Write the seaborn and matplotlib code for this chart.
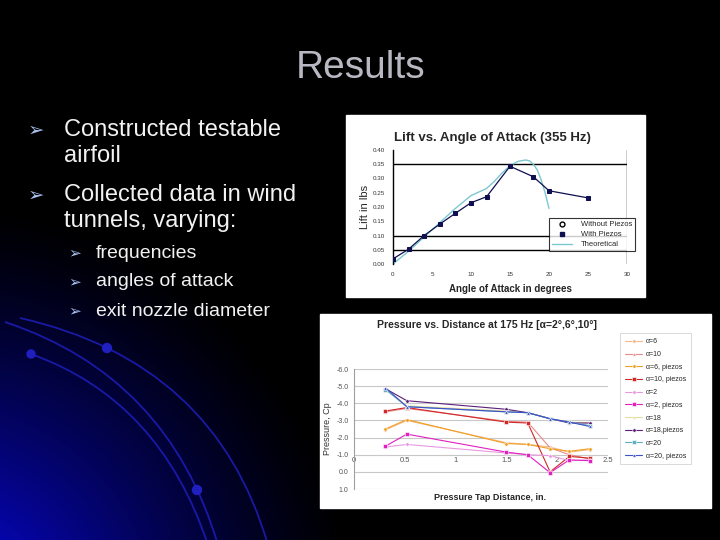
import numpy as np
import pandas as pd
import matplotlib
matplotlib.use("Agg")
import matplotlib.pyplot as plt
import seaborn as sns
from matplotlib.patches import Rectangle, PathPatch, Circle
from matplotlib.path import Path
from matplotlib.lines import Line2D

# ---- data ----
slide_title = "Results"
bullets = [["Constructed testable", "airfoil"], ["Collected data in wind", "tunnels, varying:"]]
sub_bullets = ["frequencies", "angles of attack", "exit nozzle diameter"]

# lift chart
lift_angle = [0, 2, 4, 6, 8, 10, 12, 15, 18, 20, 25]
lift_piezo = [0.018, 0.052, 0.100, 0.140, 0.178, 0.215, 0.236, 0.343, 0.306, 0.257, 0.232]
theory_angle = [0, 2, 4, 6, 8, 10, 12, 13, 14, 15, 16, 17, 17.5, 18, 18.5, 19, 19.5, 20]
theory_lift = [0.000, 0.045, 0.095, 0.145, 0.195, 0.240, 0.265, 0.290, 0.320, 0.345, 0.360,
               0.365, 0.362, 0.350, 0.330, 0.295, 0.250, 0.195]
lift_grid = [0.05, 0.10, 0.35]
lift_yticks = [0.00, 0.05, 0.10, 0.15, 0.20, 0.25, 0.30, 0.35, 0.40]
lift_xticks = [0, 5, 10, 15, 20, 25, 30]

# pressure chart
tap_dist = [0.31, 0.52, 1.50, 1.71, 1.93, 2.12, 2.32]
press_labels = ["α=6", "α=10", "α=6, piezos", "α=10, piezos", "α=2", "α=2, piezos",
                "α=18", "α=18,piezos", "α=20", "α=20, piezos"]
cp_a6 = [-2.45, -3.00, -1.70, -1.60, -1.45, -1.15, -1.30]
cp_a10 = [-3.50, -3.70, -2.95, -2.90, -1.40, -1.00, -0.75]
cp_a6p = [-2.50, -3.05, -1.65, -1.60, -1.35, -1.20, -1.35]
cp_a10p = [-3.55, -3.75, -2.90, -2.85, 0.00, -0.90, -0.80]
cp_a2 = [-1.45, -1.60, -1.10, -1.00, -0.95, -0.65, -0.70]
cp_a2p = [-1.50, -2.20, -1.15, -1.00, 0.05, -0.70, -0.65]
cp_a18 = [-4.80, -3.85, -3.55, -3.45, -3.10, -2.90, -2.85]
cp_a18p = [-4.85, -4.15, -3.65, -3.45, -3.10, -2.85, -2.85]
cp_a20 = [-4.80, -3.80, -3.50, -3.45, -3.10, -2.90, -2.70]
cp_a20p = [-4.90, -3.80, -3.50, -3.45, -3.10, -2.90, -2.65]
press_series = [cp_a6, cp_a10, cp_a6p, cp_a10p, cp_a2, cp_a2p, cp_a18, cp_a18p, cp_a20, cp_a20p]
press_colors = ["#f5b88a", "#e88a8a", "#f0a020", "#d02828", "#e898e0", "#e020c0",
                "#e6dc9c", "#5a2078", "#60b0c0", "#4050c8"]
press_markers = ["o", "^", "o", "s", "o", "s", "^", "o", "s", "^"]
press_yticks = [-6, -5, -4, -3, -2, -1, 0, 1]
press_xticks = [0, 0.5, 1, 1.5, 2, 2.5]

W, H = 720, 540
sns.set_style("white")
plt.rcParams["font.family"] = ["Liberation Sans", "DejaVu Sans"]

fig = plt.figure(figsize=(7.2, 5.4), dpi=100)


def fx(px):
    return px / W


def fy(py):
    return 1 - py / H


# ---- slide background ----
bg = fig.add_axes([0, 0, 1, 1])
yy, xx = np.mgrid[0:H, 0:W]
d = np.sqrt((xx + 60) ** 2 + (yy - 620) ** 2)
glow = np.clip(1 - d / 420, 0, 1) ** 1.3
img = np.zeros((H, W, 3))
img[..., 0] = 0.03 * glow
img[..., 1] = 0.03 * glow
img[..., 2] = 0.95 * glow
bg.imshow(img, extent=[0, W, H, 0], aspect="auto", zorder=0)
bg.set_xlim(0, W)
bg.set_ylim(H, 0)
bg.axis("off")

arcs = [((20, 318), (215, 362), (268, 545)),
        ((5, 322), (168, 376), (218, 545)),
        ((31, 354), (160, 400), (208, 545))]
for p0, c, p1 in arcs:
    path = Path([p0, c, p1], [Path.MOVETO, Path.CURVE3, Path.CURVE3])
    bg.add_patch(PathPatch(path, fill=False, edgecolor="#1c1cb4", lw=1.3, alpha=0.9, zorder=1))
for cx, cy, r in [(107, 348, 4.5), (31, 354, 4), (197, 490, 4.5)]:
    bg.add_patch(Circle((cx, cy), r, color="#2020c0", zorder=2))

# white panels behind the two pasted charts
bg.add_patch(Rectangle((346, 115), 299, 182, color="white", zorder=3))
bg.add_patch(Rectangle((320, 314), 391, 194, color="white", zorder=3))

# ---- slide text ----
main_y = [130, 195]
for y, lines in zip(main_y, bullets):
    bg.text(36, y, "➢", family=["DejaVu Sans"], color="#a8c0f0", fontsize=14, ha="center",
            va="center", zorder=4)
    for i, line in enumerate(lines):
        bg.text(64, y + 26.5 * i, line, color="#f2f2f2", fontsize=17, ha="left", va="center",
                zorder=4)
sub_y = [253, 282, 311]
for y, s in zip(sub_y, sub_bullets):
    bg.text(75, y, "➢", family=["DejaVu Sans"], color="#a8c0f0", fontsize=11, ha="center",
            va="center", zorder=4)
    bg.text(96, y, s, color="#f2f2f2", fontsize=14, ha="left", va="center", zorder=4)
bg.text(361, 68, slide_title, color="#b8b8c2", fontsize=28, ha="center", va="center", zorder=4)

# ---- lift chart ----
ax1 = fig.add_axes([fx(393), fy(264), fx(627 - 393), (264 - 150) / H])
ax1.set_facecolor("none")
for g in lift_grid:
    ax1.axhline(g, color="black", lw=1.0, zorder=1)
ax1.axvline(30, color="black", lw=1.0, zorder=1)
sns.lineplot(x=theory_angle, y=theory_lift, ax=ax1, color="#7cc8d0", lw=1.0, zorder=2)
sns.lineplot(x=lift_angle, y=lift_piezo, ax=ax1, color="#101050", lw=0.9, marker="s",
             markersize=3.5, markeredgecolor="#101050", zorder=3)
ax1.set_xlim(0, 30)
ax1.set_ylim(0, 0.40)
ax1.set_xticks(lift_xticks)
ax1.set_yticks(lift_yticks)
ax1.set_yticklabels([f"{v:.2f}" for v in lift_yticks])
ax1.tick_params(labelsize=4.5, colors="#333333", length=0, pad=6)
for s in ["top", "right", "bottom"]:
    ax1.spines[s].set_visible(False)
ax1.spines["left"].set_color("black")
ax1.spines["left"].set_linewidth(1.0)
ax1.set_xlabel("Angle of Attack in degrees", fontsize=7, fontweight="bold", labelpad=5)
ax1.set_ylabel("Lift in lbs", fontsize=8, labelpad=2)
fig.text(fx(492), fy(138), "Lift vs. Angle of Attack (355 Hz)", fontsize=9.5,
         fontweight="bold", ha="center", va="center")
lift_handles = [Line2D([], [], color="black", marker="o", mfc="white", ls="none", markersize=3.5),
                Line2D([], [], color="#101050", marker="s", ls="none", markersize=3.5),
                Line2D([], [], color="#7cc8d0", lw=1.0)]
leg1 = ax1.legend(lift_handles, ["Without Piezos", "With Piezos", "Theoretical"],
                  loc="upper left", bbox_to_anchor=(fx(545), fy(214)),
                  bbox_transform=fig.transFigure, fontsize=5.5, frameon=True, fancybox=False,
                  edgecolor="black", handlelength=2.6, labelspacing=0.35, borderpad=0.4,
                  handletextpad=1.2)
leg1.get_frame().set_linewidth(0.8)
leg1.set_zorder(5)

# ---- pressure chart ----
ax2 = fig.add_axes([fx(354), fy(489), fx(608 - 354), (489 - 369) / H])
ax2.set_facecolor("none")
rows = []
for lab, vals in zip(press_labels, press_series):
    for x, v in zip(tap_dist, vals):
        rows.append({"dist": x, "cp": v, "series": lab})
df = pd.DataFrame(rows)
for lab, col, mk in zip(press_labels, press_colors, press_markers):
    sub = df[df["series"] == lab]
    sns.lineplot(data=sub, x="dist", y="cp", ax=ax2, color=col, lw=0.8, marker=mk,
                 markersize=2.5, markeredgewidth=0.4, sort=False, label=lab, zorder=3)
ax2.set_xlim(0, 2.5)
ax2.set_ylim(1.0, -6.0)
ax2.set_yticks(press_yticks)
ax2.set_yticklabels([f"{v:.1f}" for v in press_yticks])
ax2.set_xticks(press_xticks)
ax2.set_xticklabels(["0", "0.5", "1", "1.5", "2", "2.5"])
ax2.yaxis.grid(True, color="#c8c8c8", lw=0.8)
ax2.spines["bottom"].set_position(("data", -1.0))
ax2.spines["bottom"].set_visible(False)
for s in ["top", "right"]:
    ax2.spines[s].set_visible(False)
ax2.spines["left"].set_color("#a0a0a0")
ax2.spines["left"].set_linewidth(0.8)
ax2.tick_params(axis="y", labelsize=5, colors="#555555", length=2, pad=2)
ax2.tick_params(axis="x", labelsize=5.5, colors="#555555", length=0, pad=2)
ax2.set_xlabel("")
ax2.set_ylabel("Pressure, Cp", fontsize=6.5, color="#333333", labelpad=3)
fig.text(fx(490), fy(497), "Pressure Tap Distance, in.", fontsize=6.5, fontweight="bold",
         ha="center", va="center")
fig.text(fx(487), fy(325), "Pressure vs. Distance at 175 Hz [α=2°,6°,10°]", fontsize=7.5,
         fontweight="bold", ha="center", va="center")
leg2 = ax2.legend(loc="upper left", bbox_to_anchor=(fx(617), fy(330)),
                  bbox_transform=fig.transFigure, fontsize=5, frameon=True, fancybox=False,
                  edgecolor="#c8c8c8", handlelength=2.4, labelspacing=0.82, borderpad=0.7,
                  handletextpad=0.6)
leg2.get_frame().set_linewidth(0.6)

fig.savefig("out.png", dpi=100, facecolor="black")
